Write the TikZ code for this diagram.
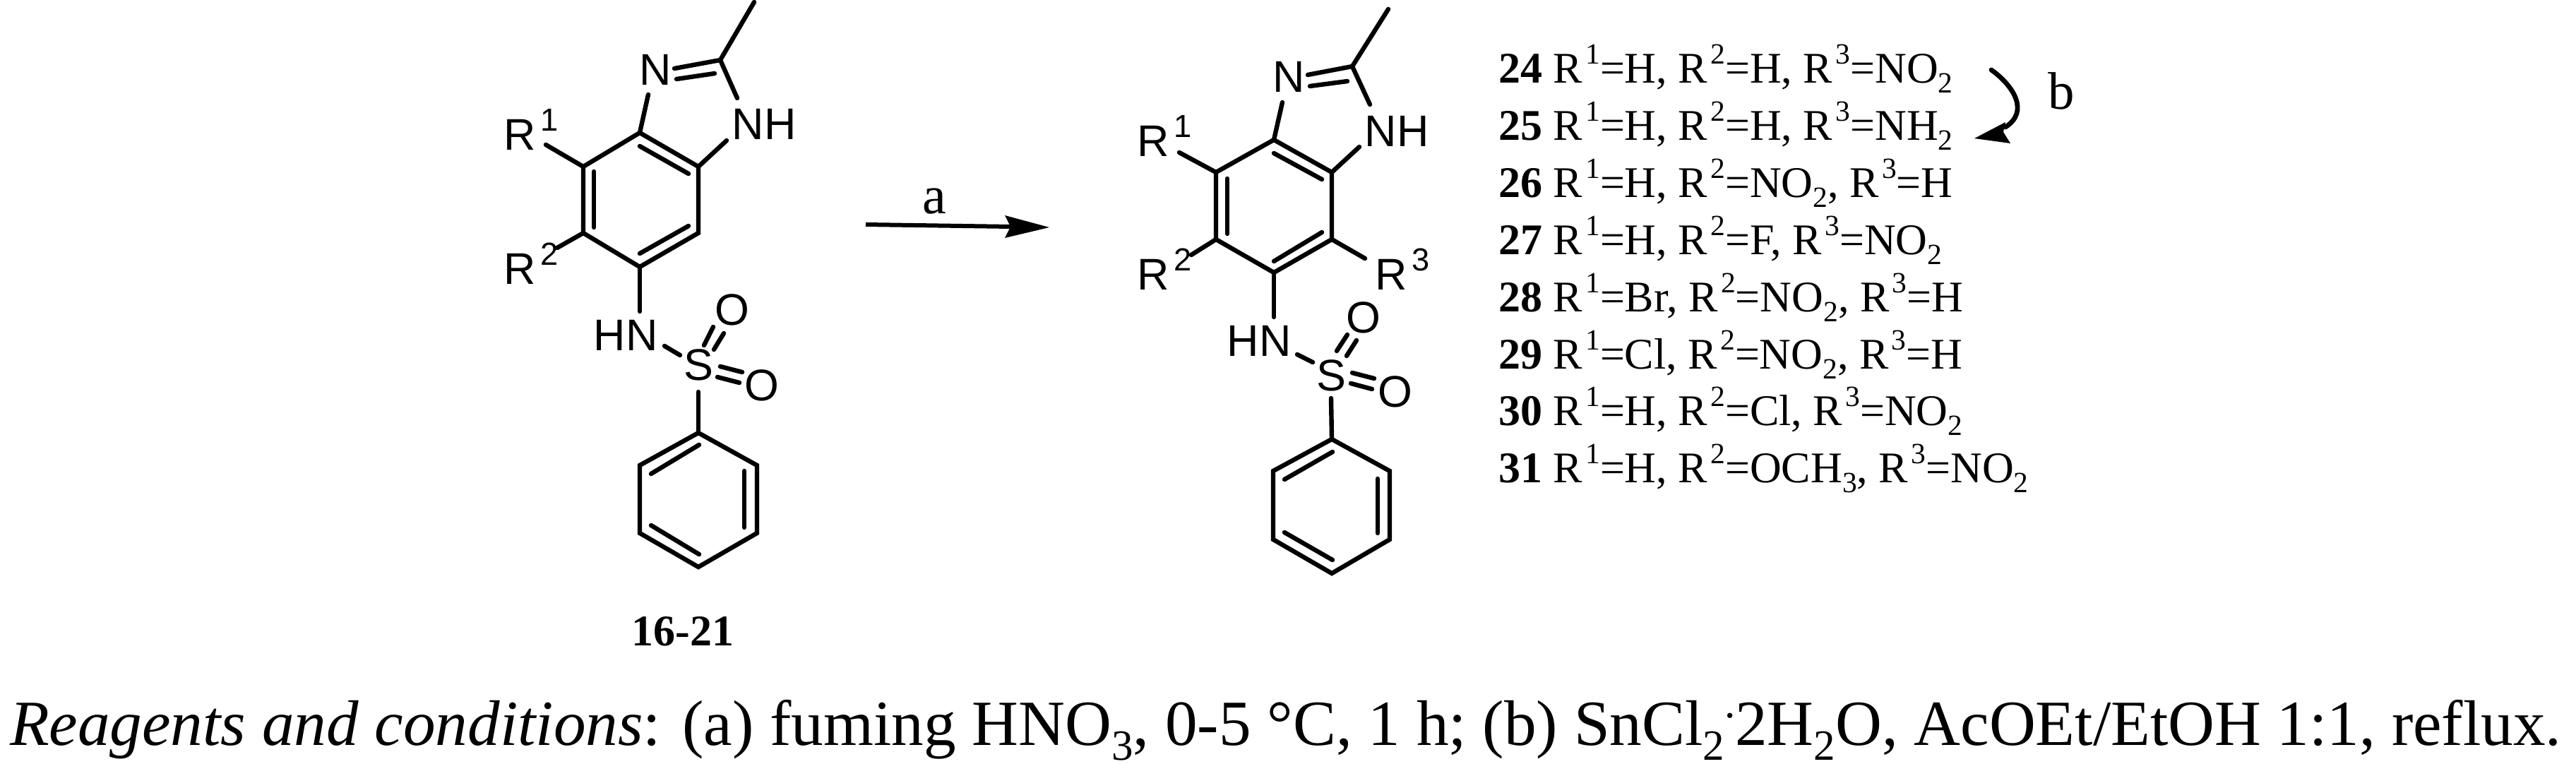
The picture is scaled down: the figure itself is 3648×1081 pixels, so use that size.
\documentclass[tikz,border=0pt]{standalone}
\usepackage{fontspec}
\setmainfont{Liberation Serif}
\newfontfamily\chemfont{Liberation Sans}
\newcommand{\sbs}[1]{\raisebox{-0.24em}{\scalebox{0.67}{#1}}}
\newcommand{\sps}[1]{\raisebox{0.42em}{\scalebox{0.67}{#1}}}
\newcommand{\Rn}[1]{R\kern0.07em\sps{#1}}
\newcommand{\chemR}[1]{R\kern0.12em\raisebox{0.42em}{\scalebox{0.72}{#1}}}
\tikzset{
  bond/.style={line width=1.6pt,line cap=round,line join=miter,black},
  atom/.style={font=\chemfont\fontsize{15.7pt}{15.7pt}\selectfont,inner sep=0pt,outer sep=0pt,anchor=base},
  listrow/.style={font=\fontsize{15.5pt}{15.5pt}\selectfont,inner sep=0pt,outer sep=0pt,anchor=base west},
  plain/.style={inner sep=0pt,outer sep=0pt,anchor=base},
}
\begin{document}
\begin{tikzpicture}[x=0.25pt,y=-0.25pt]
\useasboundingbox (0,0) rectangle (3648,1081);
% ---------- left molecule ----------
\coordinate (Lme) at (1068,3);
\coordinate (Lc2) at (1020,85);
\coordinate (La) at (906,188);
\coordinate (Lb) at (989,236);
\coordinate (Lc) at (989,330);
\coordinate (Ld) at (906,378);
\coordinate (Le) at (826,330);
\coordinate (Lf) at (826,236);
\node[atom] (LN) at (928,120) {N};
\node[atom] (LNH) at (1082,197) {NH};
\node[atom,anchor=base west] (LR1) at (713,212) {\chemR{1}};
\node[atom,anchor=base west] (LR2) at (713,402) {\chemR{2}};
\node[atom] (LHN) at (886,496) {HN};
\node[atom] (LS) at (989,538) {S};
\node[atom] (LO1) at (1037,460) {O};
\node[atom] (LO2) at (1079,567) {O};
\coordinate (Lp1) at (989,613);
\coordinate (Lp2) at (1072,659);
\coordinate (Lp3) at (1072,755);
\coordinate (Lp4) at (989,803);
\coordinate (Lp5) at (906,755);
\coordinate (Lp6) at (906,659);
\draw[bond] (Lme) -- (Lc2) -- (1044,139);
\draw[bond] (955,97) -- (Lc2);
\draw[bond] (958,112) -- (1012,104);
\draw[bond] (918,134) -- (La);
\draw[bond] (1029,199) -- (Lb);
\draw[bond] (La) -- (Lb) -- (Lc) -- (Ld) -- (Le) -- (Lf) -- cycle;
\draw[bond] (841,243) -- (841,322);
\draw[bond] (906,207) -- (975,246);
\draw[bond] (906,359) -- (975,320);
\draw[bond] (773,205) -- (Lf);
\draw[bond] (789,351) -- (Le);
\draw[bond] (Ld) -- (906,441);
\draw[bond] (941,490) -- (963,503);
\draw[bond] (1010,463) -- (997,489);
\draw[bond] (1025,472) -- (1011,495);
\draw[bond] (1020,519) -- (1051,527);
\draw[bond] (1016,534) -- (1047,542);
\draw[bond] (989,555) -- (Lp1);
\draw[bond] (Lp1) -- (Lp2) -- (Lp3) -- (Lp4) -- (Lp5) -- (Lp6) -- cycle;
\draw[bond] (990,630) -- (922,671);
\draw[bond] (1054,667) -- (1054,747);
\draw[bond] (922,744) -- (990,785);
\node[plain,font=\bfseries\fontsize{15.5pt}{15.5pt}\selectfont] (Llabel) at (967,914) {16-21};
% ---------- right molecule ----------
\coordinate (Rme) at (1966,13);
\coordinate (Rc2) at (1915,94);
\coordinate (Ra) at (1804,198);
\coordinate (Rb) at (1886,244);
\coordinate (Rc) at (1886,339);
\coordinate (Rd) at (1804,386);
\coordinate (Re) at (1722,339);
\coordinate (Rf) at (1722,244);
\node[atom] (RN) at (1825,130) {N};
\node[atom] (RNH) at (1978,207) {NH};
\node[atom,anchor=base west] (RR1) at (1610,221) {\chemR{1}};
\node[atom,anchor=base west] (RR2) at (1610,410) {\chemR{2}};
\node[atom,anchor=base west] (RR3) at (1947,410) {\chemR{3}};
\node[atom] (RHN) at (1783,504) {HN};
\node[atom] (RS) at (1885,553) {S};
\node[atom] (RO1) at (1931,471) {O};
\node[atom] (RO2) at (1976,576) {O};
\coordinate (Rp1) at (1886,622);
\coordinate (Rp2) at (1968,667);
\coordinate (Rp3) at (1968,764);
\coordinate (Rp4) at (1886,812);
\coordinate (Rp5) at (1803,764);
\coordinate (Rp6) at (1803,667);
\draw[bond] (Rme) -- (Rc2) -- (1940,148);
\draw[bond] (1852,106) -- (Rc2);
\draw[bond] (1855,122) -- (1908,115);
\draw[bond] (1816,145) -- (Ra);
\draw[bond] (1925,208) -- (Rb);
\draw[bond] (Ra) -- (Rb) -- (Rc) -- (Rd) -- (Re) -- (Rf) -- cycle;
\draw[bond] (1738,253) -- (1738,331);
\draw[bond] (1804,217) -- (1872,254);
\draw[bond] (1804,370) -- (1872,329);
\draw[bond] (1670,216) -- (Rf);
\draw[bond] (1687,361) -- (Re);
\draw[bond] (Rc) -- (1933,366);
\draw[bond] (Rd) -- (1804,449);
\draw[bond] (1837,502) -- (1859,513);
\draw[bond] (1908,474) -- (1893,497);
\draw[bond] (1921,482) -- (1907,504);
\draw[bond] (1915,528) -- (1946,536);
\draw[bond] (1913,543) -- (1943,551);
\draw[bond] (1885,564) -- (Rp1);
\draw[bond] (Rp1) -- (Rp2) -- (Rp3) -- (Rp4) -- (Rp5) -- (Rp6) -- cycle;
\draw[bond] (1887,640) -- (1819,679);
\draw[bond] (1951,678) -- (1951,755);
\draw[bond] (1819,754) -- (1887,793);
% ---------- reaction arrow a ----------
\coordinate (aS) at (1226,318);
\coordinate (aE) at (1432,321);
\coordinate (aT) at (1486,322);
\draw[line width=1.5pt,black] (aS) -- (aE);
\fill[black] (aT) -- (1423,305) -- (1431,321) -- (1423,337) -- cycle;
\node[plain,font=\fontsize{19pt}{19pt}\selectfont] (aL) at (1323,302) {a};
% ---------- list ----------
\node[listrow] (r24) at (2122,117) {\textbf{24} \Rn{1}=H, \Rn{2}=H, \Rn{3}=NO\sbs{2}};
\node[listrow] (r25) at (2122,198) {\textbf{25} \Rn{1}=H, \Rn{2}=H, \Rn{3}=NH\sbs{2}};
\node[listrow] (r26) at (2122,279) {\textbf{26} \Rn{1}=H, \Rn{2}=NO\sbs{2}, \Rn{3}=H};
\node[listrow] (r27) at (2122,360) {\textbf{27} \Rn{1}=H, \Rn{2}=F, \Rn{3}=NO\sbs{2}};
\node[listrow] (r28) at (2122,441) {\textbf{28} \Rn{1}=Br, \Rn{2}=NO\sbs{2}, \Rn{3}=H};
\node[listrow] (r29) at (2122,522) {\textbf{29} \Rn{1}=Cl, \Rn{2}=NO\sbs{2}, \Rn{3}=H};
\node[listrow] (r30) at (2122,602) {\textbf{30} \Rn{1}=H, \Rn{2}=Cl, \Rn{3}=NO\sbs{2}};
\node[listrow] (r31) at (2122,683) {\textbf{31} \Rn{1}=H, \Rn{2}=OCH\sbs{3}, \Rn{3}=NO\sbs{2}};
% ---------- curved arrow b ----------
\coordinate (bS) at (2820,99);
\coordinate (bE) at (2840,180);
\coordinate (bT) at (2796,196);
\draw[line width=1.7pt,line cap=round,black] (bS) .. controls (2852,122) and (2874,158) .. (bE);
\fill[black] (bT) -- (2840,173) -- (2837,187) -- (2847,203) -- cycle;
\node[plain,font=\fontsize{18.7pt}{18.7pt}\selectfont] (bL) at (2919,154) {b};
% ---------- caption ----------
\node[plain,anchor=base west,font=\fontsize{22.8pt}{22.8pt}\selectfont] (cap) at (14,1055)
 {\textit{Reagents and conditions}: (a) fuming HNO\sbs{3}, 0-5 °C, 1 h; (b) SnCl\sbs{2}\sps{.}2H\sbs{2}O, AcOEt/EtOH 1:1, reflux.};
\end{tikzpicture}
\end{document}
